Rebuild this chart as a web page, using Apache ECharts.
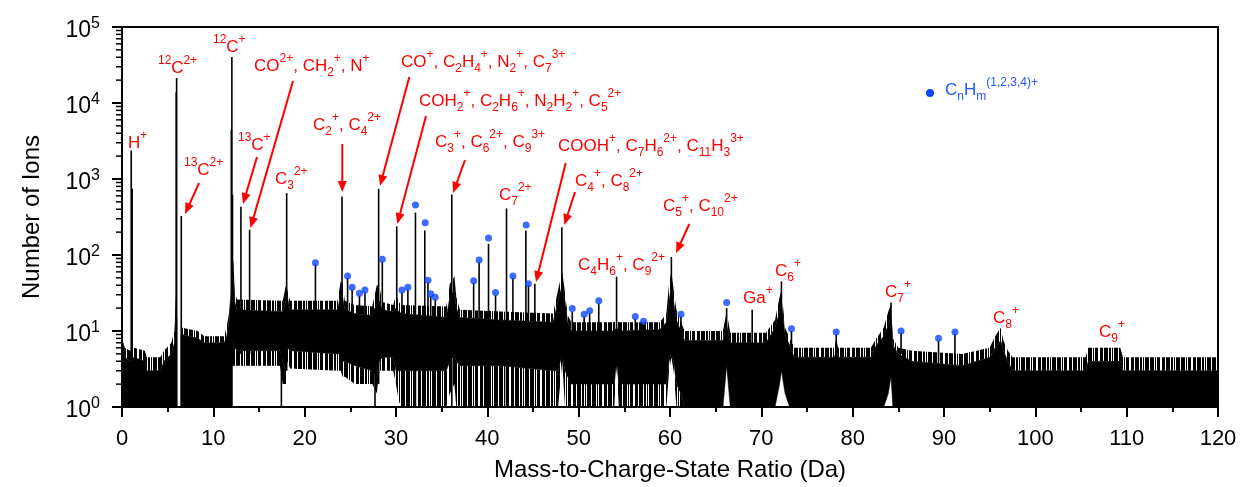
<!DOCTYPE html>
<html><head><meta charset="utf-8">
<script src="https://cdn.jsdelivr.net/npm/echarts@6/dist/echarts.min.js"></script>
<style>html,body{margin:0;padding:0;background:#fff}#c{width:1242px;height:487px}</style>
</head><body><div id="c"></div>
<script>
// ---------------- DATA ----------------
// Noise envelope of the spectrum: x (Da), upper spike tips, solid top, solid bottom, lower spike tips (counts)
const envX   = [0,0.3,0.9,1.3,2.5,2.7,4.2,4.6,5.4,5.75,5.9,6.02, null,
  6.45,6.6,8.3,9.0,11.2,11.5,11.75,11.9,12.02, null,
  12.05,12.2,12.35,12.6,17.3,17.6,17.95,18.1,18.4,23.6,23.95,24.15,24.4,25.5,27.4,27.9,28.15,28.5,29.7,30.0,30.3,30.6,
  35.5,35.9,36.4,36.6,37.0,41.4,47.2,47.75,48.2,48.5,48.8,49.2,53.9,54.15,54.4,58.9,59.6,59.9,60.15,60.4,60.7,61.2,61.6,
  65.8,66.2,66.6,70.5,71.5,72.0,72.2,72.6,73.1,73.6,78.0,78.2,78.4,82.0,82.6,83.4,83.9,84.2,84.4,85.0,86.5,92.0,
  95.0,95.6,96.2,96.5,97.0,97.5,105.5,105.8,109.3,109.6,120];
const envHi  = [8,6,5.5,6,5.5,4.5,4.5,5.5,7,10,30,30, null,
  12,11,10,8.5,8.5,12,18,40,60, null,
  100,80,32,26,25,25,40,35,25,25,45,40,25,22,21,40,40,24,22,30,24,22,
  21,42,52,28,19,18,17,35,60,32,16,13,13,14,13,13,17,42,60,35,19,13,10,
  10,18,9.5,9.5,14,28,35,11,8,6,6,8,6,6,8,11,18,22,8,6,5.5,5,
  6,8.5,11,7.5,5.5,4.5,4.5,6,6,4.5,4.5];
const envTop = [6,4.5,4,4.5,4,3,3,4,5,7,15,15, null,
  9,9,8,7,7,9,14,25,40, null,
  60,45,24,19,18,18,25,28,19,19,30,28,19,17,16,22,25,19,18,20,18,17,
  15,28,35,20,15,14,13,25,40,25,13,10,10,11,10,10.5,13,25,40,24,14,10,7.5,
  7.5,12,7,7,11,18,25,9,6.5,4.5,4.5,6,4.5,4.5,6.5,8.5,12,15,6.5,5,4,3.5,
  4.5,6,7.5,5.5,4,3,3,4,4,3,3];
const envBot = [1,1,1,1,1,1,1,1,1,1,1,1, null,
  1,1,1,1,1,1,1,1,1, null,
  8,7,6,5.5,5.5,4,3,6,5.5,5,5,4,4,3.5,3,2.5,4,4.5,4.5,3,3,3,
  3,4,5,4,3.5,3.5,3,3,5,3,2.5,2,2,4,2,2,2,4,5,4,2,1.5,1,
  1,3.5,1,1,1,2,3,1.5,1,1,1,1,1,1,1,1,1.5,2.5,1,1,1,1,
  1,1,1,1,1,1,1,1,1,1,1];
const envLo  = [1,1,1,1,1,1,1,1,1,1,1,1, null,
  1,1,1,1,1,1,1,1,1, null,
  3.5,3.5,3.5,3.5,3.5,2,2,4,3.2,3,3,2.5,2.5,2,2,1.5,3,3,3,2,1.2,1,
  1,1.5,2,1,1,1,1,1,4,1,1,1,1,3.5,1,1,1,3,4.5,3,1,1,1,
  1,3.5,1,1,1,2,3,1.5,1,1,1,1,1,1,1,1,1.5,2.5,1,1,1,1,
  1,1,1,1,1,1,1,1,1,1,1];

// Individual peaks (vertical lines): position (Da), top count, foot count
const peakX    = [1.01,1.12,5.94,5.98,6.49,11.97,12.03,12.1,13.02,13.97,17.45,18.03,21.18,24.09,24.7,25.2,26.0,26.6,27.7,28.1,28.5,30.08,30.65,31.3,32.13,33.15,33.5,33.8,34.3,36.11,38.5,39.1,40.13,40.9,42.1,42.8,44.22,44.5,45.2,48.16,49.3,50.6,51.2,52.2,54.15,56.2,57.1,60.15,61.2,66.2,69.0,72.2,73.3,78.2,84.2,85.3,89.4,91.2];
const peakTop  = [2380,750,13900,21400,326,4400,40300,620,433,215,6,650,75,590,50,35,29,32,20,740,82,238,32,35,361,211,44,29,26,625,43,80,140,30,410,50,210,40,42,231,18,15.5,17,23,52,14.5,12.5,94,15.5,20,19,45,10,9,23.7,9.5,7.5,9.2];
const peakFoot = [1,1,1,1,1,1,1,5,5,5,1,3,15,3,15,15,15,15,1,2,16,2,15,15,1,1,12,12,12,1,12,12,1,12,1,12,1,12,10,4,9,9,9,9,3.5,9,9,4.5,8,3.5,6,3,6,5,2.5,5,3.5,3.5];

// CnHm(1,2,3,4)+ markers
const dotX = [21.18,24.7,25.2,26.0,26.6,28.5,30.65,31.3,32.13,33.2,33.5,33.8,34.3,38.5,39.1,40.13,40.9,42.8,44.25,44.5,49.3,50.6,51.2,52.2,56.2,57.1,61.2,66.2,73.3,78.2,85.3,89.4,91.2];
const dotY = [79,53,37.6,31.3,34.7,88,34.7,37.6,454,266,46.7,30.8,27.9,46,86,168,32,53,249,42,19.7,16.6,18.4,25,15.5,13.4,16.6,23.8,10.7,9.7,10,8,9.7];

// Axis ticks
const decades = [1,10,100,1000,10000];
const minorMult = [2,3,4,5,6,7,8,9];

// Peak annotations (rich notation: ^{sup} _{sub})
const labelTexts = [
 'H^{+}','^{12}C^{2+}','^{12}C^{+}','CO^{2+}, CH_{2}^{+}, N^{+}','^{13}C^{2+}','^{13}C^{+}','C_{3}^{2+}',
 'C_{2}^{+}, C_{4}^{2+}','CO^{+}, C_{2}H_{4}^{+}, N_{2}^{+}, C_{7}^{3+}','COH_{2}^{+}, C_{2}H_{6}^{+}, N_{2}H_{2}^{+}, C_{5}^{2+}',
 'C_{3}^{+}, C_{6}^{2+}, C_{9}^{3+}','COOH^{+}, C_{7}H_{6}^{2+}, C_{11}H_{3}^{3+}','C_{7}^{2+}','C_{4}^{+}, C_{8}^{2+}',
 'C_{5}^{+}, C_{10}^{2+}','C_{4}H_{6}^{+}, C_{9}^{2+}','Ga^{+}','C_{6}^{+}','C_{7}^{+}','C_{8}^{+}','C_{9}^{+}'];
const legendText = 'C_{n}H_{m}^{(1,2,3,4)+}';

// ---------------- LAYOUT ----------------
const labelLeft   = [128,158,213,254,184,238,275,313,401,419,435,558,499,575,663,578,743,775,885,993,1099];
const labelCapTop = [138,63,42,61,165,140,174,120,57,96,137,141,190,176,201,260,293,266,287,313,327];
const arrowFrom = [[199,183],[257,157],[293,81],[342.3,144],[409.3,77],[426,116],[465,160],[565.7,163],[575,192],[689.3,224]];
const arrowTo   = [[185,214],[243,204],[250.5,228],[342.3,192],[380,186],[397.3,224],[453,193],[536,282],[564.3,225],[676,253]];

const FONT = "'Liberation Sans', Arial, Helvetica, sans-serif";
const RED = '#ff0000', BLUE = '#0a46ff';

function toRich(s){
  let out='', buf='', i=0;
  while(i<s.length){
    const c=s[i];
    if((c==='^'||c==='_') && s[i+1]==='{'){
      if(buf){ out+='{n|'+buf+'}'; buf=''; }
      const j=s.indexOf('}',i);
      out+='{'+(c==='^'?'p':'b')+'|'+s.slice(i+2,j)+'}';
      i=j+1;
    } else { buf+=c; i++; }
  }
  if(buf) out+='{n|'+buf+'}';
  return out;
}
function richStyles(color){
  return {
    n:{fontSize:17, lineHeight:26, verticalAlign:'middle', fill:color, fontFamily:FONT},
    p:{fontSize:12, verticalAlign:'top', fill:color, fontFamily:FONT},
    b:{fontSize:12, verticalAlign:'bottom', fill:color, fontFamily:FONT}
  };
}
// texture used for the ragged spike edges of the noise band
function makePattern(cols){
  const c=document.createElement('canvas'); c.width=cols.length; c.height=4;
  const g=c.getContext('2d'); g.fillStyle='#000';
  cols.forEach((v,i)=>{ if(v) g.fillRect(i,0,1,4); });
  return {image:c, repeat:'repeat'};
}
const hatch = makePattern([1,1,0,1,1,1,1,0,1,0,1,1,1,0,0,1,1,1,0,1,1,1,1,0,1,1,0,1,0,1,1]);

const segs=[]; (function(){ let cur=[]; envX.forEach((x,i)=>{ if(x===null){ if(cur.length) segs.push(cur); cur=[]; } else cur.push(i); }); if(cur.length) segs.push(cur); })();
const minorTicks=[]; decades.forEach(d=>minorMult.forEach(m=>minorTicks.push([0,d*m])));

const graphics=[];
labelTexts.forEach((t,i)=>{
  graphics.push({type:'text', x:labelLeft[i], y:labelCapTop[i]-8, z:100,
    style:{text:toRich(t), rich:richStyles(RED), fill:RED, align:'left', verticalAlign:'top', font:'17px '+FONT}});
});
arrowFrom.forEach((a,i)=>{
  const b=arrowTo[i]; const dx=b[0]-a[0], dy=b[1]-a[1]; const L=Math.hypot(dx,dy); const ux=dx/L, uy=dy/L;
  const hl=11, hw=4.5; const bx=b[0]-ux*hl, by=b[1]-uy*hl;
  graphics.push({type:'line', z:100, shape:{x1:a[0],y1:a[1],x2:bx+ux*2,y2:by+uy*2}, style:{stroke:RED, lineWidth:2}});
  graphics.push({type:'polygon', z:100, shape:{points:[[b[0],b[1]],[bx-uy*hw,by+ux*hw],[bx+uy*hw,by-ux*hw]]}, style:{fill:RED}});
});
graphics.push({type:'circle', z:100, shape:{cx:930, cy:93, r:4}, style:{fill:BLUE}});
graphics.push({type:'text', x:945, y:85-8, z:100, style:{text:toRich(legendText), rich:richStyles('#2356ff'), fill:'#2356ff', align:'left', verticalAlign:'top', font:'17px '+FONT}});

const chart = echarts.init(document.getElementById('c'), null, {renderer:'canvas', width:1242, height:487});
chart.setOption({
  animation:false,
  backgroundColor:'#fff',
  grid:{left:122, right:24, top:27, bottom:75, show:true, borderColor:'#000', borderWidth:2, backgroundColor:'transparent'},
  xAxis:{type:'value', min:0, max:120, interval:10,
    name:'Mass-to-Charge-State Ratio (Da)', nameLocation:'middle', nameGap:51,
    nameTextStyle:{fontSize:24, color:'#000', fontFamily:FONT},
    axisLine:{lineStyle:{color:'#000', width:2}},
    axisTick:{inside:false, length:10, lineStyle:{color:'#000', width:2}},
    minorTick:{show:true, splitNumber:2, length:5, lineStyle:{color:'#000', width:2}},
    axisLabel:{fontSize:22, color:'#000', fontFamily:FONT, margin:21},
    splitLine:{show:false}},
  yAxis:{type:'log', logBase:10, min:1, max:100000, splitNumber:5,
    name:'Number of Ions', nameLocation:'middle', nameGap:78, nameRotate:90,
    nameTextStyle:{fontSize:24, color:'#000', fontFamily:FONT},
    axisLine:{show:true, lineStyle:{color:'#000', width:2}},
    axisTick:{show:true, inside:false, length:10, lineStyle:{color:'#000', width:2}},
    axisLabel:{margin:22, formatter:v=>'{n|10}{s|'+Math.round(Math.log10(v))+'}',
      rich:{n:{fontSize:23, lineHeight:31, verticalAlign:'bottom', color:'#000', fontFamily:FONT},
            s:{fontSize:16, height:24, verticalAlign:'top', color:'#000', fontFamily:FONT}}},
    splitLine:{show:false}},
  series:[
    {type:'custom', name:'noise', clip:true, silent:true, z:2, data:[[60,3]],
     renderItem:function(params, api){
       const children=[];
       segs.forEach(idx=>{
         const up=idx.map(i=>api.coord([envX[i],envHi[i]]));
         const tp=idx.map(i=>api.coord([envX[i],envTop[i]]));
         const bt=idx.map(i=>api.coord([envX[i],envBot[i]]));
         const lo=idx.map(i=>api.coord([envX[i],envLo[i]]));
         children.push({type:'polygon', shape:{points:up.concat(tp.slice().reverse())}, style:{fill:hatch}});
         children.push({type:'polygon', shape:{points:bt.concat(lo.slice().reverse())}, style:{fill:hatch}});
         children.push({type:'polygon', shape:{points:tp.concat(bt.slice().reverse())}, style:{fill:'#000', stroke:'#000', lineWidth:0.5}});
       });
       return {type:'group', children};
     }},
    {type:'custom', name:'peaks', clip:true, silent:true, z:3,
     data:peakX.map((x,i)=>[x,peakTop[i],peakFoot[i]]), encode:{x:0, y:[1,2]},
     renderItem:function(params, api){
       const a=api.coord([api.value(0),api.value(2)]), b=api.coord([api.value(0),api.value(1)]);
       return {type:'line', shape:{x1:a[0],y1:a[1],x2:b[0],y2:b[1]}, style:{stroke:'#000', lineWidth:1.6}};
     }},
    {type:'scatter', name:'CnHm', z:4, symbol:'circle', symbolSize:7, itemStyle:{color:BLUE},
     data:dotX.map((x,i)=>[x,dotY[i]])},
    {type:'custom', name:'minorTicks', clip:false, silent:true, z:5, data:minorTicks, encode:{x:0,y:1},
     renderItem:function(params, api){
       const p=api.coord([0,api.value(1)]);
       return {type:'line', shape:{x1:p[0]-6,y1:p[1],x2:p[0],y2:p[1]}, style:{stroke:'#000', lineWidth:1.5}};
     }}
  ],
  graphic:graphics
});
</script></body></html>
